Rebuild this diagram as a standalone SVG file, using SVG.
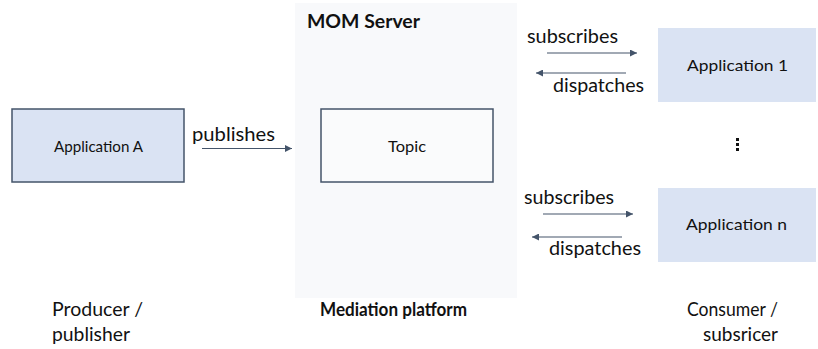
<svg xmlns="http://www.w3.org/2000/svg" width="818" height="349" viewBox="0 0 818 349">
  <defs>
    <marker id="arrow" viewBox="0 0 10 10" refX="10" refY="5" markerWidth="8" markerHeight="7" markerUnits="userSpaceOnUse" orient="auto">
      <path d="M0,0 L10,5 L0,10 Z" fill="#44546a"/>
    </marker>
    <style>
      text { font-family: Lato, "Open Sans", "Liberation Sans", sans-serif; fill: #111; }
      .lbl { font-size: 19.5px; }
      .box { font-size: 16px; }
      .bold { font-weight: bold; }
      .app { fill: #dae3f3; }
      .outlined { stroke: #44546a; stroke-width: 1.5; }
      .conn { stroke: #44546a; stroke-width: 1.2; fill: none; marker-end: url(#arrow); }
    </style>
  </defs>
  <rect width="818" height="349" fill="#ffffff"/>

  <!-- Mediation platform panel -->
  <g id="mom-server">
    <rect x="295" y="3" width="222" height="295" fill="#f8f9fb"/>
    <text class="lbl bold" x="307" y="28" textLength="113" lengthAdjust="spacingAndGlyphs">MOM Server</text>
  </g>

  <g id="application-a">
    <rect class="app outlined" x="12" y="109" width="172" height="73"/>
    <text class="box" x="54" y="152" textLength="89" lengthAdjust="spacingAndGlyphs">Application A</text>
  </g>

  <g id="topic">
    <rect class="outlined" x="321" y="109" width="172" height="73" fill="#fafbfc"/>
    <text class="box" x="388" y="152" textLength="38" lengthAdjust="spacingAndGlyphs">Topic</text>
  </g>

  <g id="application-1">
    <rect class="app" x="658" y="28" width="158" height="74"/>
    <text class="box" x="687" y="71" textLength="101" lengthAdjust="spacingAndGlyphs">Application 1</text>
  </g>

  <g id="application-n">
    <rect class="app" x="658" y="188" width="158" height="74"/>
    <text class="box" x="686" y="230" textLength="101" lengthAdjust="spacingAndGlyphs">Application n</text>
  </g>

  <g id="ellipsis">
    <rect x="736" y="138" width="3" height="3" fill="#111"/>
    <rect x="736" y="143" width="3" height="3" fill="#111"/>
    <rect x="736" y="148" width="3" height="3" fill="#111"/>
  </g>

  <!-- message flow connectors -->
  <g id="connectors">
    <line class="conn" x1="202" y1="148.5" x2="292" y2="148.5"/>
    <text class="lbl" x="192" y="141" textLength="83" lengthAdjust="spacingAndGlyphs">publishes</text>

    <line class="conn" x1="547" y1="53" x2="637" y2="53"/>
    <text class="lbl" x="527" y="43" textLength="91" lengthAdjust="spacingAndGlyphs">subscribes</text>
    <line class="conn" x1="626" y1="73" x2="536" y2="73"/>
    <text class="lbl" x="553" y="92" textLength="91" lengthAdjust="spacingAndGlyphs">dispatches</text>

    <line class="conn" x1="543" y1="214" x2="633" y2="214"/>
    <text class="lbl" x="524" y="204" textLength="90" lengthAdjust="spacingAndGlyphs">subscribes</text>
    <line class="conn" x1="622" y1="237" x2="532" y2="237"/>
    <text class="lbl" x="549" y="255" textLength="92" lengthAdjust="spacingAndGlyphs">dispatches</text>
  </g>

  <!-- role captions -->
  <g id="captions">
    <text class="lbl" x="52" y="316" textLength="91" lengthAdjust="spacingAndGlyphs">Producer /</text>
    <text class="lbl" x="52" y="341" textLength="78" lengthAdjust="spacingAndGlyphs">publisher</text>
    <text class="lbl bold" x="320" y="316" textLength="147" lengthAdjust="spacingAndGlyphs">Mediation platform</text>
    <text class="lbl" x="687" y="316" textLength="91" lengthAdjust="spacingAndGlyphs">Consumer /</text>
    <text class="lbl" x="703" y="341" textLength="75" lengthAdjust="spacingAndGlyphs">subsricer</text>
  </g>
</svg>
